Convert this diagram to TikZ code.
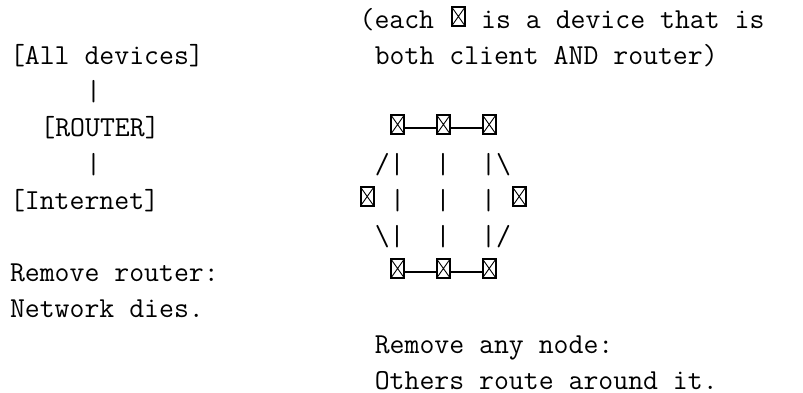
\documentclass[tikz,border=0pt]{standalone}
\usetikzlibrary{positioning}
\tikzstyle{txt} = [anchor=base west, inner sep=0pt, outer sep=0pt, font=\ttfamily\fontsize{28.95}{36}\selectfont]
\tikzstyle{device} = [rectangle, draw, line width=1.8pt, minimum width=13pt, minimum height=18.4pt, inner sep=0pt,
  path picture={\draw[line width=0.9pt] (path picture bounding box.north west) -- (path picture bounding box.south east)
    (path picture bounding box.north east) -- (path picture bounding box.south west);}]
\tikzstyle{link} = [line width=1.5pt]
% column and baseline of a character cell
\newcommand{\colx}[1]{10+15.2*#1}
\newcommand{\rowy}[1]{29+36*#1}

\begin{document}
\begin{tikzpicture}[x=1pt, y=-1pt]
	\useasboundingbox (0,0) rectangle (803,393);

	% Left: one central router
	\node (alldev) [txt] at (\colx{0},\rowy{1}) {[All devices]};
	\node (bar1) [txt] at (\colx{5},\rowy{2}) {|};
	\node (router) [txt] at (\colx{2},\rowy{3}) {[ROUTER]};
	\node (bar2) [txt] at (\colx{5},\rowy{4}) {|};
	\node (internet) [txt] at (\colx{0},\rowy{5}) {[Internet]};
	\node (dies1) [txt] at (\colx{0},\rowy{7}) {Remove router:};
	\node (dies2) [txt] at (\colx{0},\rowy{8}) {Network dies.};

	% Note
	\node (note1) [txt] at (\colx{23},\rowy{0}) {(each};
	\node (key) [device] at (\colx{29.5},\rowy{0}-12.5) {};
	\node (note2) [txt] at (\colx{31},\rowy{0}) {is a device that is};
	\node (note3) [txt] at (\colx{24},\rowy{1}) {both client AND router)};

	% Mesh
	\node (t1) [device] at (\colx{25.5},\rowy{3}-12.5) {};
	\node (t2) [device, right=31pt of t1] {};
	\node (t3) [device, right=31pt of t2] {};
	\node (m1) [device] at (\colx{23.5},\rowy{5}-12.5) {};
	\node (m2) [device] at (\colx{33.5},\rowy{5}-12.5) {};
	\node (b1) [device] at (\colx{25.5},\rowy{7}-12.5) {};
	\node (b2) [device, right=31pt of b1] {};
	\node (b3) [device, right=31pt of b2] {};

	\node (up1) [txt] at (\colx{24},\rowy{4}) {/|};
	\node (up2) [txt] at (\colx{28},\rowy{4}) {|};
	\node (up3) [txt] at (\colx{31},\rowy{4}) {|\textbackslash};
	\node (mid1) [txt] at (\colx{25},\rowy{5}) {|};
	\node (mid2) [txt] at (\colx{28},\rowy{5}) {|};
	\node (mid3) [txt] at (\colx{31},\rowy{5}) {|};
	\node (lo1) [txt] at (\colx{24},\rowy{6}) {\textbackslash|};
	\node (lo2) [txt] at (\colx{28},\rowy{6}) {|};
	\node (lo3) [txt] at (\colx{31},\rowy{6}) {|/};

	\draw[link] ([yshift=-3.5pt]t1.east) -- ([yshift=-3.5pt]t2.west);
	\draw[link] ([yshift=-3.5pt]t2.east) -- ([yshift=-3.5pt]t3.west);
	\draw[link] ([yshift=-3.5pt]b1.east) -- ([yshift=-3.5pt]b2.west);
	\draw[link] ([yshift=-3.5pt]b2.east) -- ([yshift=-3.5pt]b3.west);

	% Footer
	\node (any1) [txt] at (\colx{24},\rowy{9}) {Remove any node:};
	\node (any2) [txt] at (\colx{24},\rowy{10}) {Others route around it.};

\end{tikzpicture}
\end{document}
